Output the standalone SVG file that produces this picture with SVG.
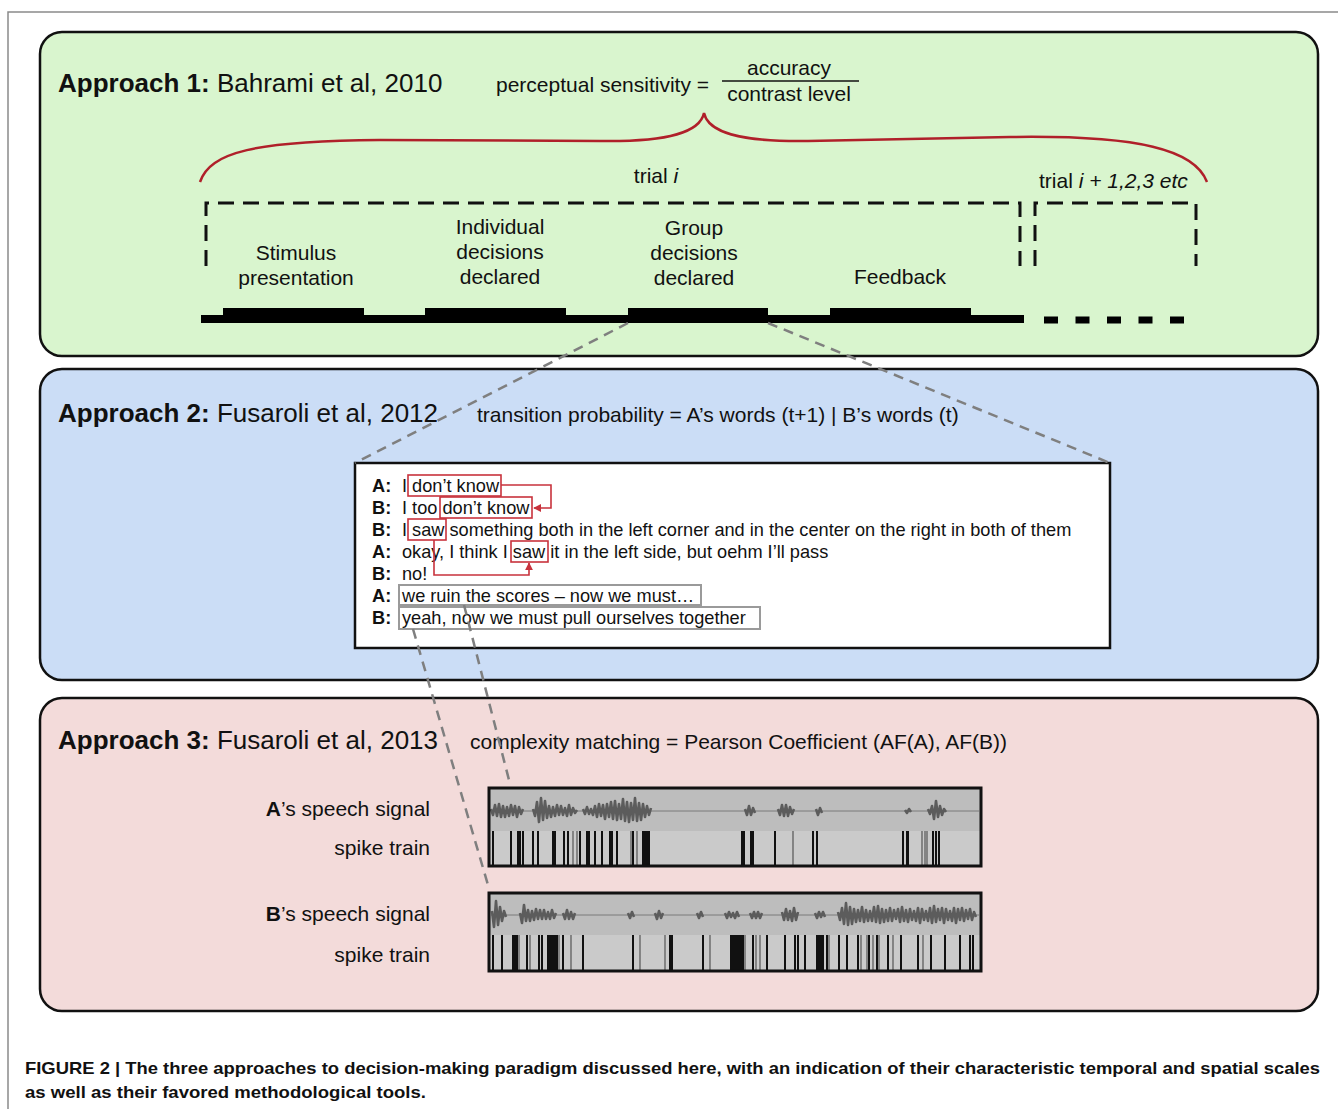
<svg xmlns="http://www.w3.org/2000/svg" width="1338" height="1109" viewBox="0 0 1338 1109">
<defs>
<style>
text{font-family:"Liberation Sans",Arial,sans-serif;fill:#111}
.ttl{font-size:26px}
.b{font-weight:bold}
.lbl{font-size:21px}
.tr{font-size:18.2px}
.cap{font-size:17px;font-weight:bold}
.panel{stroke:#111;stroke-width:2.5}
.dash{fill:none;stroke:#111;stroke-width:3;stroke-dasharray:16 9}
.conn{fill:none;stroke:#7f7f7f;stroke-width:2.5;stroke-dasharray:10 7}
.rbox{fill:none;stroke:#c8323c;stroke-width:1.6}
.gbox{fill:none;stroke:#9a9a9a;stroke-width:2}
.rline{fill:none;stroke:#c8323c;stroke-width:1.6}
.wf{fill:none;stroke:#5c5c5c;stroke-width:2.6;stroke-linejoin:round}
.sp{stroke:#111;stroke-width:2}
.spg{stroke:#555;stroke-width:1.2}
</style>
<marker id="ra" viewBox="0 0 10 10" refX="9" refY="5" markerWidth="8" markerHeight="8" orient="auto" markerUnits="userSpaceOnUse">
<path d="M0,0 L10,5 L0,10 z" fill="#c8323c"/>
</marker>
</defs>
<rect width="1338" height="1109" fill="#fff"/>
<path d="M8,1109 V12 H1338" fill="none" stroke="#8a8a8a" stroke-width="1.5"/>

<g id="panel1">
<rect class="panel" x="40" y="32" width="1278" height="324" rx="22" fill="#d9f5ce"/>
<text class="ttl" x="58" y="92"><tspan class="b">Approach 1:</tspan> Bahrami et al, 2010</text>
<text class="lbl" x="496" y="92">perceptual sensitivity =</text>
<text class="lbl" x="789" y="75" text-anchor="middle">accuracy</text>
<line x1="722" y1="81" x2="859" y2="81" stroke="#111" stroke-width="1.5"/>
<text class="lbl" x="789" y="101" text-anchor="middle">contrast level</text>
<path d="M200,182 C210,152 255,141 380,140 L600,141 C670,142 700,132 704,113 C708,132 738,142 808,141 L1010,137 C1140,135 1195,150 1207,182" fill="none" stroke="#b0202a" stroke-width="2.5"/>
<text class="lbl" x="656" y="183" text-anchor="middle">trial <tspan font-style="italic">i</tspan></text>
<text class="lbl" x="1039" y="188">trial <tspan font-style="italic">i + 1,2,3 etc</tspan></text>
<path class="dash" d="M206,266 V203 H1020 V266"/>
<path class="dash" d="M1035,266 V203 H1196 V266"/>
<text class="lbl" x="296" y="260" text-anchor="middle">Stimulus</text>
<text class="lbl" x="296" y="285" text-anchor="middle">presentation</text>
<text class="lbl" x="500" y="234" text-anchor="middle">Individual</text>
<text class="lbl" x="500" y="259" text-anchor="middle">decisions</text>
<text class="lbl" x="500" y="284" text-anchor="middle">declared</text>
<text class="lbl" x="694" y="235" text-anchor="middle">Group</text>
<text class="lbl" x="694" y="260" text-anchor="middle">decisions</text>
<text class="lbl" x="694" y="285" text-anchor="middle">declared</text>
<text class="lbl" x="900" y="284" text-anchor="middle">Feedback</text>
<rect x="201" y="315" width="823" height="8" fill="#000"/>
<rect x="223" y="308" width="141" height="15" fill="#000"/>
<rect x="425" y="308" width="141" height="15" fill="#000"/>
<rect x="628" y="308" width="140" height="15" fill="#000"/>
<rect x="830" y="308" width="141" height="15" fill="#000"/>
<line x1="1044" y1="320" x2="1186" y2="320" stroke="#000" stroke-width="7" stroke-dasharray="14 17.5"/>
</g>

<g id="panel2">
<rect class="panel" x="40" y="369" width="1278" height="311" rx="22" fill="#cbddf6"/>
<text class="ttl" x="58" y="422"><tspan class="b">Approach 2:</tspan> Fusaroli et al, 2012</text>
<text class="lbl" x="477" y="422">transition probability = A’s words (t+1) | B’s words (t)</text>
</g>

<g id="transcript">
<rect x="355" y="463" width="755" height="185" fill="#fff" stroke="#111" stroke-width="2.5"/>
<g class="tr">
<text x="372" y="492" class="b">A:</text><text x="402" y="492">I don’t know</text>
<text x="372" y="514" class="b">B:</text><text x="402" y="514">I too don’t know</text>
<text x="372" y="536" class="b">B:</text><text x="402" y="536">I saw something both in the left corner and in the center on the right in both of them</text>
<text x="372" y="558" class="b">A:</text><text x="402" y="558">okay, I think I saw it in the left side, but oehm I’ll pass</text>
<text x="372" y="580" class="b">B:</text><text x="402" y="580">no!</text>
<text x="372" y="602" class="b">A:</text><text x="402" y="602">we ruin the scores – now we must…</text>
<text x="372" y="624" class="b">B:</text><text x="402" y="624">yeah, now we must pull ourselves together</text>
</g>
<rect class="rbox" x="408" y="475" width="93" height="21"/>
<rect class="rbox" x="440" y="497" width="92" height="21"/>
<rect class="rbox" x="408" y="519" width="38" height="21"/>
<rect class="rbox" x="511" y="541" width="37" height="21"/>
<rect class="gbox" x="399" y="585" width="302" height="20"/>
<rect class="gbox" x="399" y="607" width="361" height="22"/>
<path class="rline" d="M501,485 H551 V508 H534" marker-end="url(#ra)"/>
<path class="rline" d="M434,540 V575 H529 V563" marker-end="url(#ra)"/>
</g>

<g id="panel3">
<rect class="panel" x="40" y="698" width="1278" height="313" rx="22" fill="#f3dbda"/>
<text class="ttl" x="58" y="749"><tspan class="b">Approach 3:</tspan> Fusaroli et al, 2013</text>
<text class="lbl" x="470" y="749">complexity matching = Pearson Coefficient (AF(A), AF(B))</text>
<text class="lbl" x="430" y="816" text-anchor="end"><tspan class="b">A</tspan>’s speech signal</text>
<text class="lbl" x="430" y="855" text-anchor="end">spike train</text>
<text class="lbl" x="430" y="921" text-anchor="end"><tspan class="b">B</tspan>’s speech signal</text>
<text class="lbl" x="430" y="962" text-anchor="end">spike train</text>
</g>

<g id="signalA">
<rect x="489" y="788" width="492" height="43" fill="#bdbdbd"/>
<rect x="489" y="831" width="492" height="35" fill="#cacaca"/>
<line x1="491" y1="811" x2="979" y2="811" stroke="#7a7a7a" stroke-width="1"/>
<polyline class="wf" transform="translate(491,811)" points="0,-2 2,4 4,-6 6,5 8,-7 10,6 12,-5 14,6 16,-4 18,5 20,-6 22,4 24,-5 26,6 28,-4 30,3 32,-2"/>
<polyline class="wf" transform="translate(533,811)" points="0,-2 2,5 4,-9 6,11 8,-13 10,9 12,-10 14,7 16,-5 18,6 20,-4 22,5 24,-6 26,4 28,-5 30,4 32,-3 34,5 36,-6 38,4 40,-3 42,2 44,-1"/>
<polyline class="wf" transform="translate(583,811)" points="0,-2 2,3 4,-4 6,3 8,-2 10,4 12,-5 14,6 16,-7 18,5 20,-6 22,8 24,-7 26,6 28,-9 30,8 32,-10 34,9 36,-7 38,8 40,-12 42,10 44,-9 46,11 48,-8 50,9 52,-13 54,10 56,-8 58,9 60,-7 62,6 64,-5 66,4 68,-3"/>
<polyline class="wf" transform="translate(745,811)" points="0,-2 2,4 4,-5 6,4 8,-3 10,2"/>
<polyline class="wf" transform="translate(778,811)" points="0,-2 2,4 4,-6 6,5 8,-6 10,5 12,-4 14,3 16,-2"/>
<polyline class="wf" transform="translate(816,811)" points="0,-2 2,4 4,-3 6,2"/>
<polyline class="wf" transform="translate(905,811)" points="0,-1 2,2 4,-2 6,1"/>
<polyline class="wf" transform="translate(928,811)" points="0,-2 2,3 4,-5 6,8 8,-10 10,6 12,-5 14,4 16,-2 18,1"/>
<path class="sp" d="M493,831V866M511,831V866M518,831V866M520,831V866M523,831V866M533,831V866M538,831V866M553,831V866M555,831V866M564,831V866M568,831V866M580,831V866M587,831V866M589,831V866M595,831V866M602,831V866M610,831V866M612,831V866M617,831V866M633,831V866M643,831V866M645,831V866M647,831V866M649,831V866M742,831V866M744,831V866M751,831V866M753,831V866M775,831V866M813,831V866M817,831V866M903,831V866M907,831V866M908,831V866M933,831V866M936,831V866M939,831V866"/>
<path class="spg" d="M573,831V866M577,831V866M631,831V866M637,831V866M793,831V866M922,831V866M925,831V866M927,831V866"/>
<rect x="489" y="788" width="492" height="78" fill="none" stroke="#111" stroke-width="3"/>
</g>

<g id="signalB">
<rect x="489" y="893" width="492" height="42" fill="#bdbdbd"/>
<rect x="489" y="935" width="492" height="36" fill="#cacaca"/>
<line x1="491" y1="915" x2="979" y2="915" stroke="#7a7a7a" stroke-width="1"/>
<polyline class="wf" transform="translate(492,915)" points="0,-4 2,12 4,-14 6,10 8,-8 10,6 12,-4 14,2"/>
<polyline class="wf" transform="translate(520,915)" points="0,-2 2,8 4,-10 6,6 8,-5 10,6 12,-4 14,5 16,-6 18,4 20,-5 22,4 24,-5 26,4 28,-3 30,4 32,-5 34,3 36,-2"/>
<polyline class="wf" transform="translate(563,915)" points="0,-2 2,4 4,-5 6,4 8,-3 10,4 12,-2"/>
<polyline class="wf" transform="translate(628,915)" points="0,-2 2,3 4,-3 6,2"/>
<polyline class="wf" transform="translate(655,915)" points="0,-2 2,4 4,-4 6,3 8,-2"/>
<polyline class="wf" transform="translate(697,915)" points="0,-2 2,3 4,-3 6,2"/>
<polyline class="wf" transform="translate(725,915)" points="0,-2 2,3 4,-3 6,2 8,-2 10,3 12,-3 14,2"/>
<polyline class="wf" transform="translate(750,915)" points="0,-2 2,3 4,-3 6,3 8,-3 10,3 12,-2"/>
<polyline class="wf" transform="translate(782,915)" points="0,-3 2,5 4,-6 6,5 8,-4 10,6 12,-7 14,5 16,-3"/>
<polyline class="wf" transform="translate(815,915)" points="0,-2 2,3 4,-3 6,2 8,-3 10,2"/>
<polyline class="wf" transform="translate(838,915)" points="0,-3 2,5 4,-7 6,9 8,-12 10,10 12,-8 14,9 16,-6 18,7 20,-5 22,6 24,-8 26,7 28,-5 30,6 32,-4 34,6 36,-8 38,7 40,-9 42,8 44,-6 46,7 48,-5 50,6 52,-7 54,6 56,-5 58,4 60,-6 62,7 64,-8 66,6 68,-5 70,7 72,-6 74,5 76,-4 78,6 80,-7 82,8 84,-6 86,5 88,-4 90,6 92,-7 94,8 96,-9 98,7 100,-6 102,5 104,-7 106,8 108,-6 110,5 112,-4 114,6 116,-7 118,8 120,-6 122,5 124,-7 126,6 128,-5 130,4 132,-6 134,5 136,-3 138,2"/>
<path class="sp" d="M493,935V971M502,935V971M513,935V971M515,935V971M517,935V971M527,935V971M539,935V971M542,935V971M548,935V971M550,935V971M552,935V971M553,935V971M555,935V971M557,935V971M563,935V971M583,935V971M633,935V971M670,935V971M672,935V971M703,935V971M731,935V971M733,935V971M735,935V971M737,935V971M739,935V971M741,935V971M743,935V971M753,935V971M767,935V971M785,935V971M795,935V971M798,935V971M805,935V971M817,935V971M819,935V971M821,935V971M823,935V971M827,935V971M839,935V971M847,935V971M858,935V971M869,935V971M877,935V971M888,935V971M901,935V971M918,935V971M931,935V971M945,935V971M960,935V971M970,935V971M973,935V971"/>
<path class="spg" d="M519,935V971M530,935V971M559,935V971M571,935V971M640,935V971M665,935V971M710,935V971M745,935V971M756,935V971M760,935V971M829,935V971M861,935V971M867,935V971M873,935V971M879,935V971M893,935V971M923,935V971"/>
<rect x="489" y="893" width="492" height="78" fill="none" stroke="#111" stroke-width="3"/>
</g>

<g id="connectors">
<line class="conn" x1="628" y1="323" x2="355" y2="463"/>
<line class="conn" x1="768" y1="323" x2="1110" y2="463"/>
<line class="conn" x1="464" y1="605" x2="509" y2="780"/>
<line class="conn" x1="413" y1="629" x2="488" y2="885"/>
</g>

<g id="caption">
<text class="cap" x="25" y="1074" textLength="1295" lengthAdjust="spacingAndGlyphs">FIGURE 2 | The three approaches to decision-making paradigm discussed here, with an indication of their characteristic temporal and spatial scales</text>
<text class="cap" x="25" y="1098" textLength="401" lengthAdjust="spacingAndGlyphs">as well as their favored methodological tools.</text>
</g>
</svg>
